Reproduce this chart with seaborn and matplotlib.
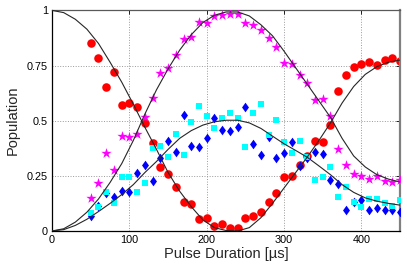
import numpy as np
import pandas as pd
import matplotlib
matplotlib.use("Agg")
import matplotlib.pyplot as plt
from matplotlib.path import Path
import seaborn as sns

#%%% data (pulse duration in us)
t = list(range(50, 451, 10))

red = [0.85, 0.785, 0.651, 0.723, 0.571, 0.581, 0.563, 0.49, 0.397, 0.289,
       0.258, 0.2, 0.133, 0.122, 0.053, 0.06, 0.023, 0.03, 0.015, 0.015,
       0.06, 0.067, 0.086, 0.13, 0.17, 0.245, 0.249, 0.3, 0.34, 0.409,
       0.404, 0.48, 0.634, 0.705, 0.744, 0.755, 0.767, 0.752, 0.776, 0.783, 0.771]
magenta = [0.151, 0.217, 0.352, 0.276, 0.431, 0.424, 0.439, 0.515, 0.605, 0.717,
           0.741, 0.8, 0.869, 0.88, 0.947, 0.941, 0.975, 0.978, 0.986, 0.986,
           0.941, 0.933, 0.913, 0.873, 0.835, 0.76, 0.756, 0.707, 0.672, 0.593,
           0.598, 0.522, 0.37, 0.299, 0.258, 0.247, 0.237, 0.25, 0.226, 0.22, 0.229]
cyan = [0.083, 0.107, 0.178, 0.125, 0.246, 0.246, 0.178, 0.217, 0.378, 0.383,
        0.335, 0.438, 0.344, 0.495, 0.568, 0.521, 0.467, 0.51, 0.533, 0.514,
        0.38, 0.536, 0.574, 0.436, 0.503, 0.404, 0.352, 0.409, 0.334, 0.231,
        0.243, 0.291, 0.153, 0.2, 0.13, 0.108, 0.145, 0.144, 0.125, 0.115, 0.14]
blue = [0.067, 0.113, 0.17, 0.154, 0.183, 0.176, 0.262, 0.299, 0.228, 0.331,
        0.406, 0.36, 0.527, 0.387, 0.379, 0.42, 0.514, 0.46, 0.452, 0.473,
        0.562, 0.395, 0.345, 0.427, 0.329, 0.352, 0.402, 0.296, 0.333, 0.357,
        0.35, 0.231, 0.215, 0.096, 0.133, 0.14, 0.093, 0.103, 0.095, 0.096, 0.087]

# theory curves, read every 15 us
tc = list(range(0, 451, 15))
curveA = [1.0, 0.99, 0.96, 0.915, 0.85, 0.765, 0.675, 0.575, 0.47, 0.37,
          0.265, 0.18, 0.11, 0.05, 0.015, 0.002, 0.0, 0.015, 0.06, 0.125,
          0.195, 0.265, 0.335, 0.41, 0.49, 0.58, 0.655, 0.71, 0.745, 0.765, 0.775]
curveB = [0.0, 0.01, 0.04, 0.085, 0.145, 0.22, 0.305, 0.41, 0.53, 0.64,
          0.735, 0.82, 0.89, 0.945, 0.978, 0.993, 0.993, 0.975, 0.935, 0.885,
          0.815, 0.74, 0.665, 0.59, 0.515, 0.42, 0.34, 0.29, 0.255, 0.235, 0.222]
curveC = [0.0, 0.006, 0.025, 0.053, 0.088, 0.125, 0.165, 0.21, 0.265, 0.315,
          0.37, 0.42, 0.455, 0.48, 0.495, 0.502, 0.502, 0.49, 0.465, 0.43,
          0.395, 0.365, 0.334, 0.295, 0.255, 0.21, 0.175, 0.15, 0.135, 0.125, 0.117]

#%%% plot
sns.set_style("white")
plt.rcParams['font.family'] = ['Liberation Sans', 'DejaVu Sans']

# MATLAB-like diamond, a bit taller than wide
diamond = Path([(0, 1), (0.72, 0), (0, -1), (-0.72, 0), (0, 1)],
               [Path.MOVETO, Path.LINETO, Path.LINETO, Path.LINETO, Path.CLOSEPOLY])

fig = plt.figure(figsize=(4.07, 2.67), dpi=100)
ax = fig.add_axes([0.128, 0.135, 0.855, 0.826])

ax.grid(True, ls=':', color='0.6', lw=0.7)
ax.set_axisbelow(True)

sns.scatterplot(x=t, y=red, marker='o', s=38, color='red', linewidth=0, ax=ax, zorder=2)
sns.scatterplot(x=t, y=magenta, marker='*', s=60, color='magenta', linewidth=0, ax=ax, zorder=3)
sns.scatterplot(x=t, y=blue, marker=diamond, s=48, color='blue', linewidth=0, ax=ax, zorder=4)
sns.scatterplot(x=t, y=cyan, marker='s', s=24, color='cyan', linewidth=0, ax=ax, zorder=5)

for c in (curveA, curveB, curveC):
    sns.lineplot(x=tc, y=c, color='0.15', lw=0.8, ax=ax, zorder=6)

ax.set_xlim(0, 450)
ax.set_ylim(0, 1)
ax.set_xticks([0, 100, 200, 300, 400])
ax.set_yticks([0, 0.25, 0.5, 0.75, 1])
ax.set_yticklabels(['0', '0.25', '0.5', '0.75', '1'])
ax.tick_params(direction='in', length=3, width=0.6, labelsize=7.8, top=True, right=True,
               pad=3, colors='black')

for side in ('left', 'bottom'):
    ax.spines[side].set_color('black')
    ax.spines[side].set_linewidth(0.9)
ax.spines['top'].set_color('0.35')
ax.spines['top'].set_linewidth(0.9)
ax.spines['right'].set_color('0.5')
ax.spines['right'].set_linewidth(1.6)

ax.set_xlabel('Pulse Duration [µs]', fontsize=10.5, labelpad=1)
ax.set_ylabel('Population', fontsize=10.5, labelpad=5)

fig.savefig('out.png', dpi=100)
